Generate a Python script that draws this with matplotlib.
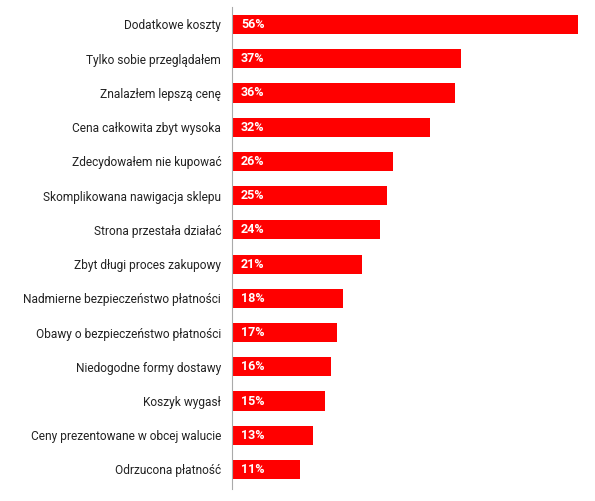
import matplotlib
matplotlib.use("Agg")
import matplotlib.pyplot as plt

categories = [
    "Dodatkowe koszty",
    "Tylko sobie przeglądałem",
    "Znalazłem lepszą cenę",
    "Cena całkowita zbyt wysoka",
    "Zdecydowałem nie kupować",
    "Skomplikowana nawigacja sklepu",
    "Strona przestała działać",
    "Zbyt długi proces zakupowy",
    "Nadmierne bezpieczeństwo płatności",
    "Obawy o bezpieczeństwo płatności",
    "Niedogodne formy dostawy",
    "Koszyk wygasł",
    "Ceny prezentowane w obcej walucie",
    "Odrzucona płatność",
]
values = [56, 37, 36, 32, 26, 25, 24, 21, 18, 17, 16, 15, 13, 11]

plt.rcParams['font.family'] = ['Roboto', 'DejaVu Sans']

fig = plt.figure(figsize=(5.95, 5.01), dpi=100)
ax = fig.add_axes([232.3/595, 1-489/501, (578-232.3)/595, (489-7)/501])

ys = list(range(len(categories)))
ax.barh(ys, values, height=0.56, color="#ff0000", left=0)
for y, v in zip(ys, values):
    ax.text(1.4, y, f"{v}%", color="white", fontweight="bold", fontsize=9,
            va="center", ha="left")

ax.set_xlim(0, 56)
ax.set_ylim(len(categories) - 1 + 0.57, -0.51)
ax.set_yticks(ys)
ax.set_yticklabels(categories, fontsize=8.6, color="#222222")
ax.tick_params(axis="y", length=0, pad=8)
ax.set_xticks([])
for s in ["top", "right", "bottom"]:
    ax.spines[s].set_visible(False)
ax.spines["left"].set_color("#aaaaaa")
ax.spines["left"].set_linewidth(0.8)

fig.savefig("out.png", dpi=100)
